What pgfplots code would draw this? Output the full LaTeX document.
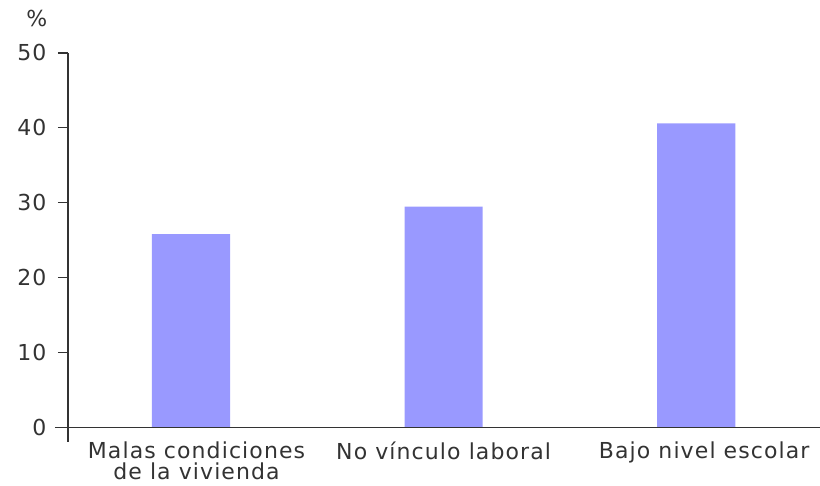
\documentclass[border=0pt]{standalone}
\usepackage{fontspec}
\setmainfont{DejaVu Sans}[LetterSpace=5]
\usepackage{pgfplots}
\pgfplotsset{compat=1.18}
\definecolor{barc}{HTML}{9999FF}
\definecolor{txt}{HTML}{333333}
\definecolor{axc}{HTML}{333333}
\begin{document}
\begin{tikzpicture}
\path[use as bounding box] (-68pt,-44.3pt) rectangle (752pt,441.7pt);
\begin{axis}[
  at={(0pt,0pt)}, anchor=south west,
  scale only axis, width=752pt, height=388.7pt,
  xmin=-0.487, xmax=2.49, ymin=-1.9, ymax=50,
  axis y line*=left, axis x line*=bottom,
  x axis line style={draw=none},
  y axis line style={-, draw=axc, line width=1.2pt},
  ytick={0,10,20,30,40,50},
  xtick={0,1,2},
  xticklabels={{\hspace*{11pt}Malas condiciones\\\hspace*{11pt}de la vivienda},{No vínculo laboral},{\hspace*{16pt}Bajo nivel escolar}},
  x tick style={draw=none},
  y tick style={draw=axc, line width=1.2pt},
  tick align=outside, major tick length=10pt,
  every tick label/.append style={font=\fontsize{22}{20.5}\selectfont, text=txt},
  /pgf/number format/assume math mode=true,
  xticklabel style={align=center, yshift=11pt, inner sep=1pt},
  yticklabel style={xshift=-8pt},
  ybar, bar width=0.309,
  clip=false,
]
\addplot[fill=barc, draw=none] coordinates {(0,25.8) (1,29.5) (2,40.6)};
\draw[axc, line width=1.2pt] (axis cs:-0.539,0) -- (axis cs:2.49,0);
\node[font=\fontsize{22}{21}\selectfont, text=txt] at (axis cs:-0.61,54.6) {\%};
\end{axis}
\end{tikzpicture}
\end{document}
